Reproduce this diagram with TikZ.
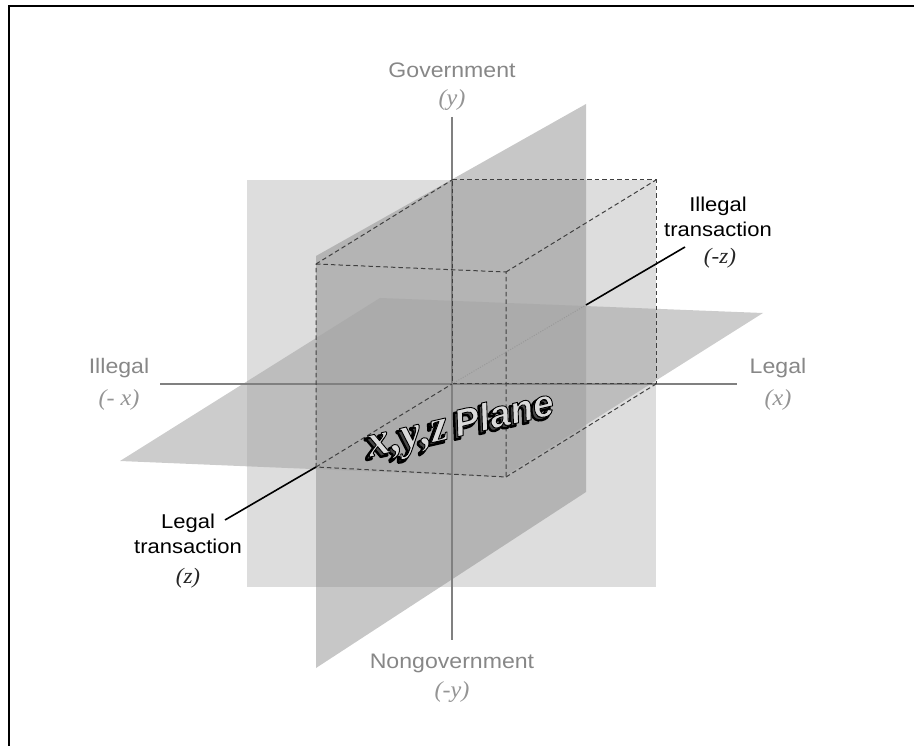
\documentclass[tikz,border=0pt]{standalone}
\usepackage{fontspec}
\setmainfont{Liberation Sans}
\newfontfamily\labsans[FakeStretch=1.1]{Liberation Sans}
\newfontfamily\labserif[FakeStretch=1.05]{Liberation Serif}
\newfontfamily\wordserif{Liberation Serif}
\newfontfamily\wordsans{Liberation Sans}
\definecolor{backcol}{gray}{0.867}
\definecolor{vcol}{gray}{0.5}
\definecolor{hcol}{gray}{0.643}
\definecolor{axcol}{gray}{0.5}
\definecolor{labcol}{gray}{0.53}
\definecolor{itcol}{gray}{0.58}
\definecolor{boxcol}{gray}{0.25}
\newcommand{\xyzword}{{\wordserif\bfseries\itshape\fontsize{46}{46}\selectfont x,y,z}\hspace{7pt}{\wordsans\bfseries\itshape\fontsize{38}{38}\selectfont Plane}}
\newcommand{\strokemode}[1]{\special{pdf:literal direct 0 G #1 w 1 J 1 j 2 Tr}}
\newcommand{\fillmode}{\special{pdf:literal direct 0 Tr}}
\begin{document}
\begin{tikzpicture}[x=1pt,y=-1pt,
  axlab/.style={text=labcol,font=\labsans\fontsize{21}{24}\selectfont,inner sep=0pt},
  axit/.style={text=itcol,font=\labserif\itshape\fontsize{23}{24}\selectfont,inner sep=0pt},
  blab/.style={text=black,font=\labsans\fontsize{20}{25}\selectfont,align=center,inner sep=0pt},
  bit/.style={text=black!85,font=\labserif\itshape\fontsize{22}{24}\selectfont,inner sep=0pt},
  axisline/.style={draw=axcol,line width=1.5pt},
  boxedge/.style={draw=boxcol,line width=1pt,dash pattern=on 4.5pt off 3pt},
  hiddenz/.style={draw=gray!80,line width=1pt,dash pattern=on 1pt off 1.5pt},
  leader/.style={draw=black,line width=1.6pt},
  wa/.style={rotate=13,inner sep=0pt,anchor=center},
  framestyle/.style={draw=black,line width=2pt}
]
\useasboundingbox (0,0) rectangle (914,746);
% frame (only left and top edges visible)
\coordinate (fr1) at (8.5,746);
\coordinate (fr2) at (8.5,6);
\coordinate (fr3) at (914,6);
\draw[framestyle] (fr1) -- (fr2) -- (fr3);

% planes
\fill[backcol] (247,180) rectangle (656,587);
\fill[vcol,fill opacity=.44] (316,256) -- (586,104) -- (586,492) -- (316,668) -- cycle;
\fill[hcol,fill opacity=.56] (120,461) -- (380,298) -- (763,313) -- (503,477) -- cycle;

% axes
\coordinate (ytop) at (452,117);
\coordinate (ybot) at (452,640);
\coordinate (xl) at (160,384);
\coordinate (xr) at (737,384);
\draw[axisline] (ytop) -- (ybot);
\draw[axisline] (xl) -- (xr);

% box corners
\coordinate (BTL) at (452,180);
\coordinate (BTR) at (656,180);
\coordinate (BBR) at (656,384);
\coordinate (BBL) at (452,384);
\coordinate (FTL) at (316,264);
\coordinate (FTR) at (506,272);
\coordinate (FBR) at (506,477);
\coordinate (FBL) at (316,467);
\draw[boxedge] (BTL) -- (BTR) -- (BBR) -- (BBL) -- cycle;
\draw[boxedge] (FTL) -- (FTR) -- (FBR) -- (FBL) -- cycle;
\draw[boxedge] (FTL) -- (BTL);
\draw[boxedge] (FTR) -- (BTR);
\draw[boxedge] (FBR) -- (BBR);
\draw[boxedge] (FBL) -- (BBL);

% z axis hidden part and leaders
\coordinate (zin) at (586,305);
\coordinate (zend) at (685,247);
\coordinate (zlow) at (225,520);
\draw[hiddenz] (BBL) -- (zin);
\draw[leader] (zin) -- (zend);
\draw[leader] (FBL) -- (zlow);

% word art: extruded shadow, then outlined face
\node[wa,text=black!72] (xyzshadow) at (458,430) {\strokemode{2.4}\xyzword\fillmode};
\node[wa,text=gray!30] (xyz) at (461,427) {\strokemode{0.9}\xyzword\fillmode};

% axis labels
\node[axlab] (gov) at (452,70) {Government};
\node[axit] (govy) at (452,100) {(y)};
\node[axlab] (illeg) at (119,368) {Illegal};
\node[axit] (illegx) at (119,400) {(- x)};
\node[axlab] (leg) at (778,368) {Legal};
\node[axit] (legx) at (778,400) {(x)};
\node[axlab] (nongov) at (452,663) {Nongovernment};
\node[axit] (nongovy) at (452,692) {(-y)};

% transaction labels
\node[blab] (illtr) at (718,217) {Illegal\\transaction};
\node[bit] (illz) at (720,258) {(-z)};
\node[blab] (legtr) at (188,534) {Legal\\transaction};
\node[bit] (legz) at (188,578) {(z)};
\end{tikzpicture}
\end{document}
